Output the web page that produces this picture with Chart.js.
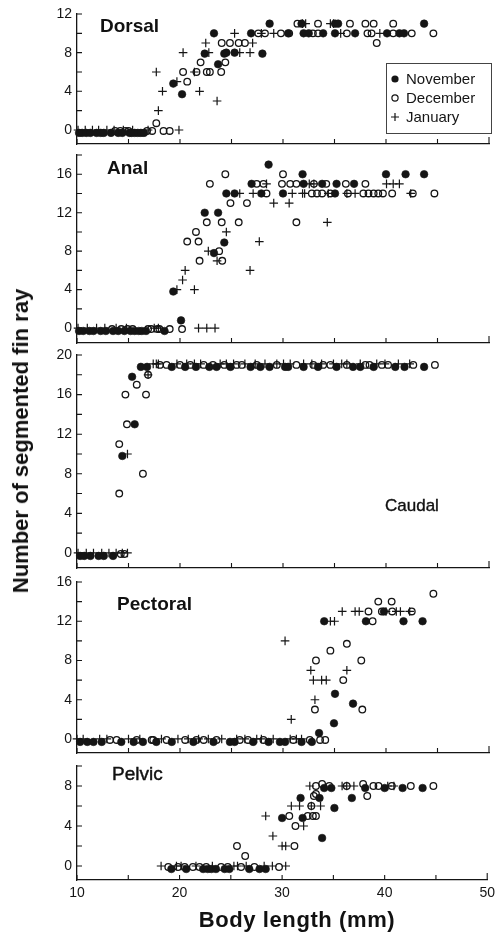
<!DOCTYPE html>
<html>
<head>
<meta charset="utf-8">
<script src="https://cdn.jsdelivr.net/npm/chart.js@4/dist/chart.umd.min.js"></script>
<style>
  html, body { margin: 0; padding: 0; background: #fff; }
  #page { position: relative; width: 500px; height: 937px; overflow: hidden; background: #fff;
          font-family: "Liberation Sans", Arial, Helvetica, sans-serif; color: #111; }
  #page canvas { position: absolute; left: 0; }
  .lbl { position: absolute; white-space: nowrap; line-height: 1; transform: translateY(-50%); }
  .bold { font-weight: bold; }
  #ytitle { position: absolute; left: 21px; top: 441px; font-weight: bold; font-size: 22px; white-space: nowrap;
            line-height: 1; transform: translate(-50%, -50%) rotate(-90deg); }
  #xtitle { position: absolute; left: 297px; top: 920px; font-weight: bold; font-size: 22px; white-space: nowrap;
            line-height: 1; letter-spacing: 0.6px; transform: translate(-50%, -50%); }
</style>
</head>
<body>
<div id="page">
  <canvas id="c-dorsal"></canvas>
  <canvas id="c-anal"></canvas>
  <canvas id="c-caudal"></canvas>
  <canvas id="c-pectoral"></canvas>
  <canvas id="c-pelvic"></canvas>
  <div class="lbl bold" style="left:100px;top:25px;font-size:19px">Dorsal</div>
  <div class="lbl bold" style="left:107px;top:167px;font-size:19px">Anal</div>
  <div class="lbl" style="left:385px;top:505px;font-size:17px;-webkit-text-stroke:0.35px #111">Caudal</div>
  <div class="lbl bold" style="left:117px;top:603px;font-size:19px">Pectoral</div>
  <div class="lbl" style="left:112px;top:773px;font-size:19px;-webkit-text-stroke:0.45px #111">Pelvic</div>
  <div id="ytitle">Number of segmented fin ray</div>
  <div id="xtitle">Body length (mm)</div>
</div>
<script>
// Sampling months (legend labels)
const monthLabels = ['November', 'December', 'January'];

// Body length (mm) ticks along the shared horizontal axis
const xMin = 10, xMax = 50, xStep = 5, xLabelEvery = 10;

// Dorsal fin: [body length mm, segmented rays]
const dorsalNov = [
  [10.2,-0.3],[10.5,-0.3],[10.9,-0.3],[11.3,-0.3],[11.9,-0.3],[12.3,-0.3],[12.6,-0.3],[13.3,-0.3],[14.0,-0.3],[14.4,-0.3],
  [15.1,-0.3],[15.3,-0.3],[15.6,-0.3],[15.9,-0.3],[16.2,-0.3],[16.5,-0.3],
  [19.35,4.8],[20.2,3.7],[22.4,7.9],[23.3,10],[23.7,6.8],[24.3,7.9],[24.5,8],[25.3,8],[26.9,10],[28.0,7.9],[28.7,11],[30.5,10],
  [31.8,11],[32.0,10],[32.5,10],[33.9,10],[35.05,10],[35.05,11],[35.35,11],[37.0,10],[40.1,10],[41.3,10],[41.75,10],[43.7,11]
];
const dorsalDec = [
  [13.7,-0.1],[14.2,-0.1],[14.7,-0.1],[15.0,-0.1],[16.8,-0.1],[17.3,-0.1],[18.4,-0.1],[19.0,-0.1],[17.7,0.7],
  [20.3,6],[20.7,5],[21.6,6],[22.0,7],[22.6,6],[22.9,6],[24.0,6],[24.4,7],[24.05,9],[24.85,9],[25.7,9],[26.3,9],
  [27.6,10],[28.25,10],[29.8,10],[30.6,10],[32.9,10],[33.4,10],[36.2,10],[38.2,10],[38.6,10],[40.7,10],[42.5,10],[44.6,10],[39.1,9],
  [31.4,11],[33.4,11],[36.5,11],[38.0,11],[38.8,11],[40.7,11]
];
const dorsalJan = [
  [10.1,0],[10.8,0],[11.5,0],[12.1,0],[12.9,0],[13.6,0],[14.5,0],[15.4,0],[16.9,0],[19.9,0],
  [17.9,2],[18.3,4],[17.7,6],[19.7,5],[20.3,8],[21.4,6],[21.9,4],[22.5,9],[22.8,8],[23.6,3],[25.8,8],[26.8,8],[27.05,9],
  [25.3,10],[27.9,10],[29.1,10],[35.6,10],[39.4,10],[31.9,11],[32.2,11],[34.6,11],[34.9,11]
];

// Anal fin
const analNov = [
  [10.2,-0.3],[10.6,-0.3],[11.2,-0.3],[11.6,-0.3],[12.3,-0.3],[12.8,-0.3],[13.5,-0.3],[14.0,-0.3],[14.6,-0.3],[15.2,-0.3],
  [15.6,-0.3],[16.0,-0.3],[16.3,-0.3],[16.7,-0.3],[18.5,-0.3],[20.1,0.8],
  [19.35,3.8],[22.4,12],[23.3,7.8],[23.7,12],[24.3,8.9],[24.5,14],[25.3,14],[26.95,15],[27.9,14],[28.6,17],[30.0,14],
  [31.9,16],[32.0,15],[33.8,15],[35.2,15],[35.05,14],[36.9,15],[40.0,16],[41.9,16],[43.7,16]
];
const analDec = [
  [13.4,-0.1],[14.3,-0.1],[14.9,-0.1],[15.4,-0.1],[16.9,-0.1],[17.2,-0.1],[17.8,-0.1],[18.0,-0.1],[19.0,-0.1],[20.2,-0.1],
  [20.7,9],[21.55,10],[21.8,9],[21.9,7],[22.6,11],[22.9,15],[23.8,8],[24.05,11],[24.1,7],[24.4,16],[24.9,13],[25.7,11],[26.5,13],
  [27.45,15],[28.1,15],[28.4,14],[29.9,15],[30.0,16],[30.7,15],[31.3,15],[31.3,11],[33.0,15],[34.2,15],[36.1,15],[38.0,15],
  [32.8,14],[33.3,14],[33.8,14],[34.6,14],[36.3,14],[37.8,14],[38.3,14],[38.8,14],[39.25,14],[39.7,14],[40.6,14],[42.6,14],[44.7,14]
];
const analJan = [
  [10.1,0],[11.0,0],[11.9,0],[12.7,0],[13.8,0],[14.8,0],[17.5,0],[17.9,0],[21.8,0],[22.6,0],[23.4,0],
  [19.7,4],[20.25,5],[20.5,6],[21.4,4],[22.75,8],[23.6,7],[24.5,10],[25.8,14],[26.8,6],[27.1,14],[27.7,9],[28.4,15],[29.1,13],
  [30.6,13],[30.9,14],[31.9,14],[32.1,14],[32.55,15],[33.0,15],[34.3,11],[34.4,14],[36.2,14],[37.0,14],[40.05,15],[40.7,15],[41.3,15],[42.4,14]
];

// Caudal fin
const caudalNov = [
  [10.3,-0.3],[10.7,-0.3],[11.3,-0.3],[12.1,-0.3],[12.6,-0.3],[13.5,-0.3],
  [14.4,9.8],[15.6,13],[15.35,17.8],
  [16.2,18.8],[16.8,18.8],[19.2,18.8],[20.5,18.8],[21.55,18.8],[22.85,18.8],[23.55,18.8],[24.9,18.8],[26.85,18.8],[27.8,18.8],
  [28.7,18.8],[30.2,18.8],[30.5,18.8],[32.0,18.8],[33.4,18.8],[35.2,18.8],[36.8,18.8],[37.5,18.8],[38.8,18.8],[40.9,18.8],[41.8,18.8],[43.7,18.8]
];
const caudalDec = [
  [14.25,-0.1],[14.6,-0.1],
  [14.1,6],[14.1,11],[14.7,16],[14.85,13],[15.8,17],[16.4,8],[16.7,16],[16.9,18],
  [18.05,19],[18.7,19],[20.0,19],[21.0,19],[22.3,19],[23.2,19],[24.3,19],[25.5,19],[26.0,19],[27.45,19],[29.4,19],[31.3,19],
  [32.95,19],[33.9,19],[34.6,19],[36.2,19],[38.0,19],[38.4,19],[39.6,19],[40.2,19],[42.65,19],[44.75,19]
];
const caudalJan = [
  [10.1,0],[10.9,0],[11.6,0],[12.4,0],[13.1,0],[13.8,0],[14.4,0],[14.9,0],
  [14.9,10],[16.9,18],
  [17.4,19.1],[17.7,19.1],[17.9,19.1],[19.7,19.1],[20.65,19.1],[21.4,19.1],[22.0,19.1],[23.9,19.1],[24.5,19.1],[25.2,19.1],
  [26.3,19.1],[27.3,19.1],[28.25,19.1],[29.4,19.1],[30.05,19.1],[30.7,19.1],[32.0,19.1],[32.8,19.1],[33.75,19.1],[34.9,19.1],
  [35.7,19.1],[36.2,19.1],[37.5,19.1],[39.1,19.1],[39.9,19.1],[41.2,19.1],[42.3,19.1]
];

// Pectoral fin
const pectoralNov = [
  [10.3,-0.3],[11.0,-0.3],[11.6,-0.3],[12.4,-0.3],[14.3,-0.3],[15.5,-0.3],[16.4,-0.3],[17.7,-0.3],[19.2,-0.3],[21.3,-0.3],
  [23.25,-0.3],[24.85,-0.3],[25.3,-0.3],[27.1,-0.3],[28.6,-0.3],[29.7,-0.3],[30.2,-0.3],[31.8,-0.3],[32.8,-0.3],
  [33.5,0.6],[34.95,1.6],[36.8,3.6],[35.05,4.6],[34.0,12],[38.05,12],[41.7,12],[43.55,12],[39.8,13]
];
const pectoralDec = [
  [13.2,-0.1],[13.85,-0.1],[15.8,-0.1],[17.25,-0.1],[17.4,-0.1],[18.7,-0.1],[20.5,-0.1],[21.6,-0.1],[22.3,-0.1],[23.55,-0.1],
  [25.8,-0.1],[26.6,-0.1],[28.1,-0.1],[31.0,-0.1],[32.6,-0.1],[33.6,-0.1],[34.1,-0.1],
  [33.1,3],[37.7,3],[35.85,6],[33.2,8],[37.6,8],[34.6,9],[36.2,9.7],[38.7,12],[38.3,13],[39.6,13],[40.6,13],[42.5,13],
  [39.25,14],[40.55,14],[44.6,14.8]
];
const pectoralJan = [
  [10.0,0],[10.6,0],[12.2,0],[12.9,0],[15.0,0],[16.1,0],[18.2,0],[19.8,0],[20.8,0],[21.8,0],[22.75,0],[24.05,0],[25.5,0],
  [26.3,0],[27.45,0],[27.9,0],[29.05,0],[30.7,0],[31.3,0],[31.8,0],
  [30.8,2],[33.1,4],[32.95,6],[33.75,6],[34.2,6],[32.7,7],[36.2,7],[30.2,10],[34.6,12],[35.0,12],[35.75,13],[37.0,13],
  [37.4,13],[40.0,13],[41.0,13],[41.4,13],[42.3,13]
];

// Pelvic fin
const pelvicNov = [
  [19.2,-0.3],[20.65,-0.3],[22.3,-0.3],[22.75,-0.3],[23.1,-0.3],[23.55,-0.3],[24.4,-0.3],[24.85,-0.3],[26.8,-0.3],[27.8,-0.3],[28.4,-0.3],
  [30.0,4.8],[32.0,4.8],[31.8,6.8],[33.65,6.8],[33.9,2.8],[35.1,5.8],[36.8,6.8],[34.1,7.8],[34.8,7.8],[38.1,7.8],[40.0,7.8],
  [41.75,7.8],[43.7,7.8]
];
const pelvicDec = [
  [18.9,-0.1],[19.85,-0.1],[20.5,-0.1],[21.3,-0.1],[21.95,-0.1],[22.6,-0.1],[24.05,-0.1],[24.7,-0.1],[26.0,-0.1],[27.3,-0.1],[29.7,-0.1],
  [25.6,2],[26.4,1],[31.2,2],[31.3,4],[30.7,5],[32.5,5],[33.0,5],[33.3,5],[32.85,6],[33.1,7],[33.3,7.2],[38.3,7],
  [33.3,8],[33.9,8.2],[34.6,8],[36.3,8],[37.9,8.2],[38.9,8],[39.4,8],[40.7,8],[42.55,8],[44.75,8]
];
const pelvicJan = [
  [18.2,0],[19.7,0],[20.15,0],[21.6,0],[23.2,0],[25.3,0],[25.65,0],[26.5,0],[28.25,0],[29.05,0],[30.35,0],
  [28.4,5],[29.1,3],[30.0,2],[30.35,2],[30.9,6],[31.7,6],[32.1,4],[32.85,6],[33.75,6],[32.7,8],[35.85,8],[36.3,8],[37.0,8],
  [40.3,8],[40.9,8]
];

// Panel frames: value range, and where the plot box sits on the page
const panels = [
  { id: 'c-dorsal',   sets: [dorsalNov, dorsalDec, dorsalJan],       yMin: -1.45, yMax: 12, top: 14,  bottom: 144, legend: true },
  { id: 'c-anal',     sets: [analNov, analDec, analJan],             yMin: -1.55, yMax: 18, top: 155, bottom: 343 },
  { id: 'c-caudal',   sets: [caudalNov, caudalDec, caudalJan],       yMin: -1.52, yMax: 20, top: 355, bottom: 568 },
  { id: 'c-pectoral', sets: [pectoralNov, pectoralDec, pectoralJan], yMin: -1.43, yMax: 16, top: 582, bottom: 753 },
  { id: 'c-pelvic',   sets: [pelvicNov, pelvicDec, pelvicJan],       yMin: -1.4,  yMax: 10, top: 766, bottom: 880, xLabels: true }
];

const INK = '#151515';
// top padding and x-axis band are both larger than the y-axis label overhang,
// so the plot box lands exactly where each panel says
const PAD_TOP = 16, PAD_RIGHT = 11, Y_AXIS_W = 77, X_BAND = 16, X_BAND_LABELLED = 30;

const markerStyles = [
  { pointStyle: 'circle', pointRadius: 3.8, backgroundColor: INK, borderColor: INK, borderWidth: 0.6 },
  { pointStyle: 'circle', pointRadius: 3.3, backgroundColor: 'rgba(0,0,0,0)', borderColor: INK, borderWidth: 1.3 },
  { pointStyle: 'cross', pointRadius: 4.3, backgroundColor: INK, borderColor: INK, borderWidth: 1.2 }
];

Chart.defaults.font.family = '"Liberation Sans", Arial, Helvetica, sans-serif';
Chart.defaults.font.size = 14;
Chart.defaults.color = INK;

// Short tick marks pointing into the plot on both axes
const inwardTicks = {
  id: 'inwardTicks',
  afterDraw(chart) {
    const { ctx, chartArea, scales } = chart;
    ctx.save();
    ctx.strokeStyle = INK;
    ctx.lineWidth = 1.1;
    ctx.beginPath();
    scales.y.ticks.forEach(t => {
      const p = scales.y.getPixelForValue(t.value);
      ctx.moveTo(chartArea.left, p);
      ctx.lineTo(chartArea.left + 5, p);
    });
    scales.x.ticks.forEach(t => {
      const p = scales.x.getPixelForValue(t.value);
      ctx.moveTo(p, chartArea.bottom);
      ctx.lineTo(p, chartArea.bottom - (t.value === xMax ? 7 : 5));
    });
    ctx.stroke();
    ctx.restore();
  }
};

// Boxed legend inside the top panel
const boxLegend = {
  id: 'boxLegend',
  afterDraw(chart) {
    const ctx = chart.ctx;
    const ca = chart.chartArea;
    const bx = ca.right - 103, by = ca.top + 49, bw = 105, bh = 70;
    ctx.save();
    ctx.strokeStyle = '#444';
    ctx.lineWidth = 1;
    ctx.fillStyle = '#fff';
    ctx.fillRect(bx, by, bw, bh);
    ctx.strokeRect(bx + 0.5, by + 0.5, bw, bh);
    ctx.font = '15px "Liberation Sans", Arial, sans-serif';
    ctx.textBaseline = 'middle';
    chart.data.datasets.forEach((ds, i) => {
      const cy = by + 16 + i * 19;
      const cx = bx + 9;
      ctx.strokeStyle = INK;
      ctx.fillStyle = INK;
      if (i === 0) {
        ctx.beginPath(); ctx.arc(cx, cy, 3.6, 0, Math.PI * 2); ctx.fill();
      } else if (i === 1) {
        ctx.lineWidth = 1.2;
        ctx.beginPath(); ctx.arc(cx, cy, 3.1, 0, Math.PI * 2); ctx.stroke();
      } else {
        ctx.lineWidth = 1.2;
        ctx.beginPath();
        ctx.moveTo(cx - 4, cy); ctx.lineTo(cx + 4, cy);
        ctx.moveTo(cx, cy - 4); ctx.lineTo(cx, cy + 4);
        ctx.stroke();
      }
      ctx.fillStyle = INK;
      ctx.fillText(ds.label, bx + 20, cy + 1);
    });
    ctx.restore();
  }
};

panels.forEach(p => {
  const xAxisH = p.xLabels ? X_BAND_LABELLED : X_BAND;
  const canvas = document.getElementById(p.id);
  const h = (p.bottom - p.top) + PAD_TOP + xAxisH;
  canvas.width = 500;
  canvas.height = h;
  canvas.style.width = '500px';
  canvas.style.height = h + 'px';
  canvas.style.top = (p.top - PAD_TOP) + 'px';

  const datasets = p.sets.map((pts, i) => Object.assign({
    label: monthLabels[i],
    data: pts.map(([x, y]) => ({ x, y })),
    clip: false
  }, markerStyles[i]));

  new Chart(canvas, {
    type: 'scatter',
    data: { datasets },
    options: {
      responsive: false,
      animation: false,
      devicePixelRatio: 1,
      events: [],
      layout: { padding: { top: PAD_TOP, right: PAD_RIGHT, left: 0, bottom: 0 } },
      plugins: { legend: { display: false }, tooltip: { enabled: false } },
      scales: {
        x: {
          type: 'linear',
          min: xMin, max: xMax,
          afterFit: s => { s.height = xAxisH; },
          border: { display: true, color: INK, width: 1.3 },
          grid: { display: true, drawOnChartArea: false, drawTicks: false, color: 'rgba(0,0,0,0)' },
          ticks: {
            display: !!p.xLabels,
            stepSize: xStep,
            autoSkip: false,
            maxRotation: 0,
            padding: 5,
            font: { size: 14 },
            color: INK,
            callback: v => (v % xLabelEvery === 0 ? String(v) : '')
          }
        },
        y: {
          type: 'linear',
          min: p.yMin, max: p.yMax,
          afterFit: s => { s.width = Y_AXIS_W; },
          border: { display: true, color: INK, width: 1.3 },
          grid: { display: true, drawOnChartArea: false, drawTicks: false, color: 'rgba(0,0,0,0)' },
          ticks: {
            stepSize: 2,
            includeBounds: false,
            autoSkip: false,
            padding: 5,
            font: { size: 14 },
            color: INK,
            callback: v => (v % 4 === 0 ? String(v) : '')
          }
        }
      }
    },
    plugins: p.legend ? [inwardTicks, boxLegend] : [inwardTicks]
  });
});
</script>
</body>
</html>
